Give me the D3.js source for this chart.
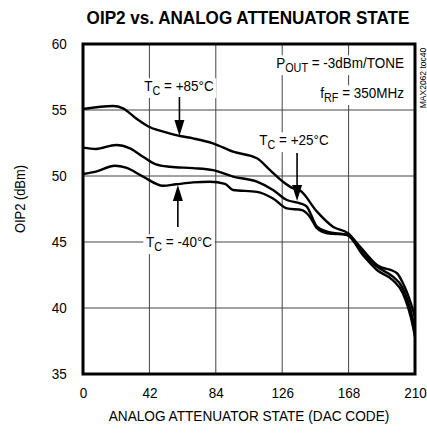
<!DOCTYPE html>
<html><head><meta charset="utf-8">
<script src="https://cdn.jsdelivr.net/npm/d3@7"></script>
<style>body{margin:0;background:#fff}svg{display:block}text{font-family:'Liberation Sans Narrow','Arial Narrow','Liberation Sans',sans-serif}</style>
</head><body><svg id="c" width="427" height="437"></svg>
<script>
const xTicks=[0,42,84,126,168,210];
const yTicks=[35,40,45,50,55,60];
const codes85=[0,19,25.3,33.5,42.4,52.5,61.4,69.6,82.2,94.9,110,118.3,126.5,132.8,137.3,148,158.1,167.6,175.2,185.9,198.6,202.4,208.7,210];
const oip85=[55.08,55.3,55.13,54.37,53.69,53.31,53.03,52.85,52.48,51.84,51.34,50.45,49.57,49.07,48.9,47.3,46.16,45.66,44.65,43.26,42.63,41.87,39.85,39.3];
const codes25=[0,8.2,20.9,29.7,38,46.2,55,69.6,82.2,94.9,110,120.2,129,137.3,141.4,148,154.4,167.6,177.1,185.9,196,201.8,208.7,210];
const oip25=[52.15,52.05,52.35,52.1,51.46,50.88,50.7,50.6,50.45,49.95,49.57,48.94,48.18,47.93,47.7,46.16,45.78,45.53,44.14,43.13,42.37,41.6,39.1,38.3];
const codesM40=[0,8.2,20.2,27.2,38,50.6,58.8,69.6,80.3,89.8,94.9,110,120.2,129,138.6,143.6,148,154.4,167,177.1,185.9,196,202.4,208.7,210];
const oipM40=[50.15,50.33,50.78,50.63,49.95,49.26,49.37,49.52,49.57,49.4,48.94,48.8,48.3,47.55,47.42,46.9,46.04,45.66,45.53,44.0,42.88,42.1,41.1,38.6,37.8];
const series=[{c:codes85,v:oip85},{c:codes25,v:oip25},{c:codesM40,v:oipM40}];

const svg=d3.select('#c');
const L=83,R=415,T=44,B=374;
const x=d3.scaleLinear().domain([0,210]).range([L,R]);
const y=d3.scaleLinear().domain([35,60]).range([B,T]);

svg.append('text').attr('transform','translate(248,24) scale(0.9,1)').attr('text-anchor','middle')
  .attr('font-size',19).attr('font-weight','bold')
  .text('OIP2 vs. ANALOG ATTENUATOR STATE');

// grid
const g=svg.append('g');
g.selectAll('.vg').data(xTicks.slice(1,-1)).enter().append('line')
  .attr('x1',d=>x(d)).attr('x2',d=>x(d)).attr('y1',T).attr('y2',B).attr('stroke','#444').attr('stroke-width',1);
g.selectAll('.hg').data(yTicks.slice(1,-1)).enter().append('line')
  .attr('y1',d=>y(d)).attr('y2',d=>y(d)).attr('x1',L).attr('x2',R).attr('stroke','#444').attr('stroke-width',1);

// axes labels
const xa=svg.append('g').attr('transform',`translate(0,${B})`).call(d3.axisBottom(x).tickValues(xTicks).tickSize(0).tickPadding(13));
xa.select('.domain').remove();
xa.selectAll('text').attr('font-size',15).attr('fill','#000').attr('transform','scale(0.9,1)');
const ya=svg.append('g').attr('transform',`translate(${L},0)`).call(d3.axisLeft(y).tickValues(yTicks).tickSize(0).tickPadding(18));
ya.select('.domain').remove();
ya.selectAll('text').attr('font-size',15).attr('fill','#000').attr('transform','scale(0.9,1)');

svg.append('text').attr('transform','translate(249,421) scale(0.91,1)').attr('text-anchor','middle').attr('font-size',15).text('ANALOG ATTENUATOR STATE (DAC CODE)');
svg.append('text').attr('transform','translate(25,199) rotate(-90) scale(0.92,1)').attr('text-anchor','middle').attr('font-size',14).text('OIP2 (dBm)');
svg.append('text').attr('transform','translate(426,78) rotate(-90) scale(0.9,1)').attr('text-anchor','middle').attr('font-size',9.5).text('MAX2062 toc40');

// curves
const line=d3.line().x(d=>x(d[0])).y(d=>y(d[1])).curve(d3.curveMonotoneX);
svg.selectAll('.crv').data(series).enter().append('path')
  .attr('d',s=>line(s.c.map((c,i)=>[c,s.v[i]])))
  .attr('fill','none').attr('stroke','#000').attr('stroke-width',2.4).attr('stroke-linejoin','round');

// labels with white backgrounds
function label(cx,cy,main,sub,rest,anchor){
  const grp=svg.append('g').attr('transform',`translate(${cx},${cy}) scale(0.9,1)`);
  const t=grp.append('text').attr('x',0).attr('y',0).attr('font-size',15).attr('text-anchor',anchor||'middle');
  t.append('tspan').text(main);
  t.append('tspan').attr('font-size',12).attr('dy',4).text(sub);
  t.append('tspan').attr('dy',-4).text(rest);
  const bb=t.node().getBBox();
  grp.insert('rect',()=>t.node()).attr('x',bb.x-3).attr('y',bb.y+1).attr('width',bb.width+6).attr('height',bb.height).attr('fill','#fff');
  return t;
}
label(179,91,'T','C',' = +85°C');
label(294,145,'T','C',' = +25°C');
label(179,247,'T','C',' = -40°C');
label(404,68,'P','OUT',' = -3dBm/TONE','end');
label(404,98,'f','RF',' = 350MHz','end');

function arrow(xd,y0,y1){
  const px=x(xd);
  svg.append('line').attr('x1',px).attr('x2',px).attr('y1',y0).attr('y2',y1+(y1>y0?-8:8)).attr('stroke','#000').attr('stroke-width',1.6);
  const dir=y1>y0?-1:1;
  svg.append('path').attr('d',`M${px},${y1}L${px-5},${y1+dir*16}L${px+5},${y1+dir*16}Z`).attr('fill','#000');
}
arrow(61,97,136);
arrow(135.4,153,201);
arrow(60,227,185);

// frame
svg.append('rect').attr('x',L).attr('y',T).attr('width',R-L).attr('height',B-T).attr('fill','none').attr('stroke','#000').attr('stroke-width',3);
</script></body></html>
